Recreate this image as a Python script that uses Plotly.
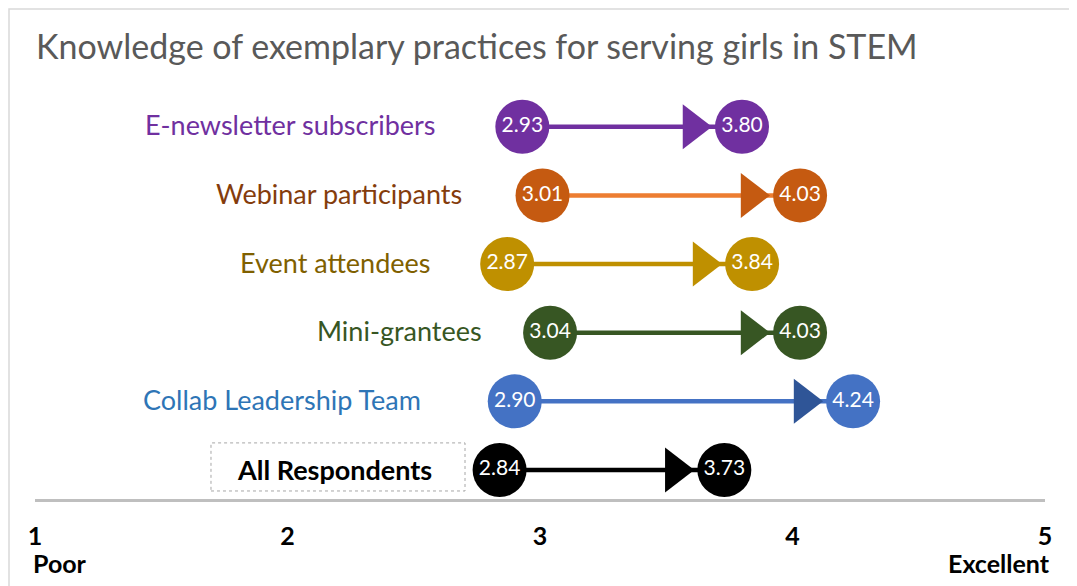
import plotly.graph_objects as go

# data, top row first
groups = ["E-newsletter subscribers", "Webinar participants", "Event attendees",
          "Mini-grantees", "Collab Leadership Team", "All Respondents"]
before = [2.93, 3.01, 2.87, 3.04, 2.90, 2.84]
after = [3.80, 4.03, 3.84, 4.03, 4.24, 3.73]
tick_vals = [1, 2, 3, 4, 5]
tick_text = ["1", "2", "3", "4", "5"]

# styles per row
dot_colors = ["#7030A0", "#C55A11", "#BF9000", "#375623", "#4472C4", "#000000"]
line_colors = ["#7030A0", "#ED7D31", "#BF9000", "#375623", "#4472C4", "#000000"]
head_colors = ["#7030A0", "#C55A11", "#BF9000", "#375623", "#2F5597", "#000000"]
label_colors = ["#7030A0", "#843C0C", "#7F6000", "#375623", "#2E75B6", "#000000"]
label_right = [2.595, 2.70, 2.575, 2.78, 2.535, None]  # right edge of each label (x units)

# the page body adds an 8px margin, so the figure is laid out 8px up/left
W, H = 1077, 586
ML, MR, MT, MB = 27, 40, 57, 95
X_RANGE = [1, 5]
Y_RANGE = [-0.423, 5.9]
FONT = "Lato"

plot_w = W - ML - MR
plot_h = H - MT - MB
px = plot_w / (X_RANGE[1] - X_RANGE[0])  # pixels per x unit
dot_size = 54
head_size = 39
# triangle-right tip sits 2/sqrt(3)*r right of its centre; put the tip on the circle edge
head_back = (dot_size / 2 + head_size / 2 * 2 / 3 ** 0.5) / px

n = len(groups)
ypos = list(range(n - 1, -1, -1))

fig = go.Figure()

for i in range(n):
    fig.add_trace(go.Scatter(
        x=[before[i], after[i]], y=[ypos[i], ypos[i]], mode="lines",
        line=dict(color=line_colors[i], width=4.5), hoverinfo="skip", showlegend=False,
    ))
    fig.add_trace(go.Scatter(
        x=[after[i] - head_back], y=[ypos[i]], mode="markers",
        marker=dict(symbol="triangle-right", size=head_size, color=head_colors[i]),
        hoverinfo="skip", showlegend=False,
    ))
    fig.add_trace(go.Scatter(
        x=[before[i], after[i]], y=[ypos[i], ypos[i]], mode="markers+text",
        marker=dict(size=dot_size, color=dot_colors[i]),
        text=[f"{before[i]:.2f}", f"{after[i]:.2f}"], textposition="middle center",
        textfont=dict(family=FONT, size=21, color="white"),
        name=groups[i], showlegend=False,
        hovertemplate=groups[i] + ": %{x:.2f}<extra></extra>",
    ))

for i in range(n):
    if label_right[i] is None:
        continue
    fig.add_annotation(
        x=label_right[i], y=ypos[i], xref="x", yref="y", text=groups[i],
        xanchor="right", yanchor="middle", yshift=2, showarrow=False,
        font=dict(family=FONT, size=27, color=label_colors[i]),
    )

# boxed "All Respondents" label
box_x = [1.697, 2.703]
box_y = [-0.306, 0.394]
fig.add_shape(type="rect", xref="x", yref="y", x0=box_x[0], x1=box_x[1],
              y0=box_y[0], y1=box_y[1], line=dict(color="#A6A6A6", width=1, dash="dot"))
fig.add_annotation(
    x=sum(box_x) / 2 - 0.015, y=ypos[-1], xref="x", yref="y", text="<b>All Respondents</b>",
    showarrow=False, font=dict(family=FONT, size=27, color="black"),
)

# scale end labels
fig.add_annotation(x=X_RANGE[0], y=0, xref="x", yref="paper", yshift=-64,
                   xanchor="left", yanchor="middle", xshift=-4, showarrow=False,
                   text="<b>Poor</b>", font=dict(family=FONT, size=25, color="black"))
fig.add_annotation(x=X_RANGE[1], y=0, xref="x", yref="paper", yshift=-64,
                   xanchor="right", yanchor="middle", xshift=7, showarrow=False,
                   text="<b>Excellent</b>", font=dict(family=FONT, size=25, color="black"))

# outer frame (top and left edges visible)
fig.add_shape(type="rect", xref="paper", yref="paper",
              x0=(1 - ML) / plot_w, x1=1.2, y0=-0.5, y1=1 + (MT - 1) / plot_h,
              line=dict(color="#D9D9D9", width=1.5))

fig.update_layout(
    width=W, height=H,
    margin=dict(l=ML, r=MR, t=MT, b=MB),
    paper_bgcolor="white", plot_bgcolor="white",
    title=dict(text="Knowledge of exemplary practices for serving girls in STEM",
               x=28 / W, xref="container", xanchor="left",
               y=1 - 39 / H, yref="container", yanchor="middle",
               font=dict(family=FONT, size=34, color="#595959")),
    xaxis=dict(range=X_RANGE, tickvals=tick_vals, ticktext=tick_text,
               showgrid=False, zeroline=False, showline=True,
               linecolor="#BFBFBF", linewidth=2.5, ticks="",
               ticklabelstandoff=13,
               tickfont=dict(family=FONT, size=25, color="black", weight="bold")),
    yaxis=dict(range=Y_RANGE, visible=False),
)

fig.write_html("out.html")
